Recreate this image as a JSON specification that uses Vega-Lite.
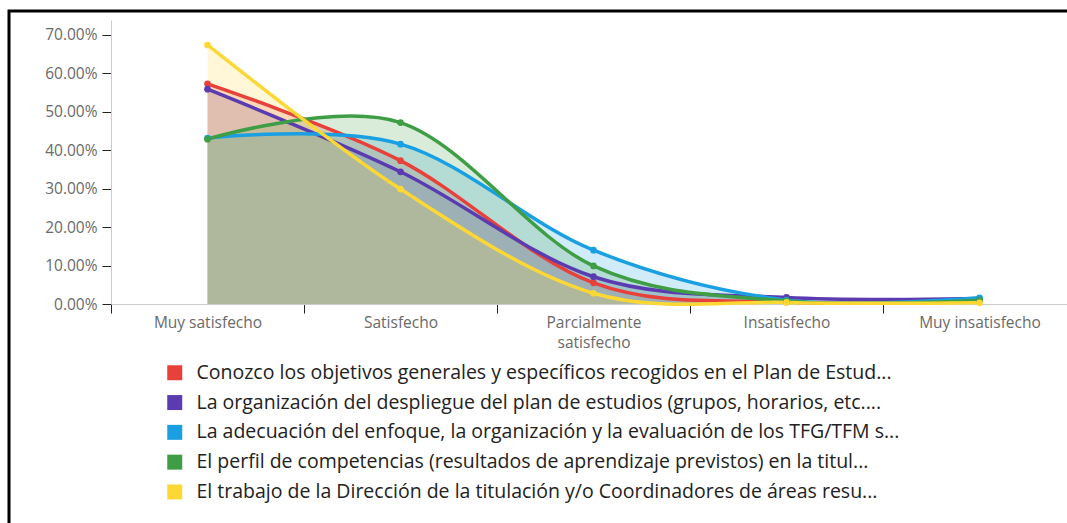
{
  "$schema": "https://vega.github.io/schema/vega-lite/v6.json",
  "autosize": "none",
  "padding": {"left": 9, "top": 11, "right": 0, "bottom": 0},
  "width": 1080,
  "height": 540,
  "config": {
    "font": "Open Sans",
    "view": {"stroke": "#000000", "strokeWidth": 3}
  },
  "data": {
    "values": [
      {"cat": "Muy satisfecho", "serie": "Conozco los objetivos generales y específicos recogidos en el Plan de Estud...", "value": 0.573},
      {"cat": "Satisfecho", "serie": "Conozco los objetivos generales y específicos recogidos en el Plan de Estud...", "value": 0.373},
      {"cat": "Parcialmente satisfecho", "serie": "Conozco los objetivos generales y específicos recogidos en el Plan de Estud...", "value": 0.055},
      {"cat": "Insatisfecho", "serie": "Conozco los objetivos generales y específicos recogidos en el Plan de Estud...", "value": 0.005},
      {"cat": "Muy insatisfecho", "serie": "Conozco los objetivos generales y específicos recogidos en el Plan de Estud...", "value": 0.01},
      {"cat": "Muy satisfecho", "serie": "La organización del despliegue del plan de estudios (grupos, horarios, etc....", "value": 0.559},
      {"cat": "Satisfecho", "serie": "La organización del despliegue del plan de estudios (grupos, horarios, etc....", "value": 0.344},
      {"cat": "Parcialmente satisfecho", "serie": "La organización del despliegue del plan de estudios (grupos, horarios, etc....", "value": 0.071},
      {"cat": "Insatisfecho", "serie": "La organización del despliegue del plan de estudios (grupos, horarios, etc....", "value": 0.017},
      {"cat": "Muy insatisfecho", "serie": "La organización del despliegue del plan de estudios (grupos, horarios, etc....", "value": 0.014},
      {"cat": "Muy satisfecho", "serie": "La adecuación del enfoque, la organización y la evaluación de los TFG/TFM s...", "value": 0.432},
      {"cat": "Satisfecho", "serie": "La adecuación del enfoque, la organización y la evaluación de los TFG/TFM s...", "value": 0.416},
      {"cat": "Parcialmente satisfecho", "serie": "La adecuación del enfoque, la organización y la evaluación de los TFG/TFM s...", "value": 0.14},
      {"cat": "Insatisfecho", "serie": "La adecuación del enfoque, la organización y la evaluación de los TFG/TFM s...", "value": 0.01},
      {"cat": "Muy insatisfecho", "serie": "La adecuación del enfoque, la organización y la evaluación de los TFG/TFM s...", "value": 0.016},
      {"cat": "Muy satisfecho", "serie": "El perfil de competencias (resultados de aprendizaje previstos) en la titul...", "value": 0.429},
      {"cat": "Satisfecho", "serie": "El perfil de competencias (resultados de aprendizaje previstos) en la titul...", "value": 0.472},
      {"cat": "Parcialmente satisfecho", "serie": "El perfil de competencias (resultados de aprendizaje previstos) en la titul...", "value": 0.099},
      {"cat": "Insatisfecho", "serie": "El perfil de competencias (resultados de aprendizaje previstos) en la titul...", "value": 0.008},
      {"cat": "Muy insatisfecho", "serie": "El perfil de competencias (resultados de aprendizaje previstos) en la titul...", "value": 0.01},
      {"cat": "Muy satisfecho", "serie": "El trabajo de la Dirección de la titulación y/o Coordinadores de áreas resu...", "value": 0.674},
      {"cat": "Satisfecho", "serie": "El trabajo de la Dirección de la titulación y/o Coordinadores de áreas resu...", "value": 0.299},
      {"cat": "Parcialmente satisfecho", "serie": "El trabajo de la Dirección de la titulación y/o Coordinadores de áreas resu...", "value": 0.028},
      {"cat": "Insatisfecho", "serie": "El trabajo de la Dirección de la titulación y/o Coordinadores de áreas resu...", "value": 0.004},
      {"cat": "Muy insatisfecho", "serie": "El trabajo de la Dirección de la titulación y/o Coordinadores de áreas resu...", "value": 0.003}
    ]
  },
  "encoding": {
    "x": {
      "field": "cat",
      "type": "nominal",
      "sort": ["Muy satisfecho", "Satisfecho", "Parcialmente satisfecho", "Insatisfecho", "Muy insatisfecho"],
      "scale": {"type": "band", "range": [102, 1067], "paddingInner": 0, "paddingOuter": 0},
      "axis": {
        "title": null,
        "offset": -247,
        "labelAngle": 0,
        "tickBand": "extent",
        "domainColor": "#cccccc",
        "tickColor": "#222222",
        "tickSize": 9,
        "labelColor": "#6a6a6a",
        "labelFontSize": 15.5,
        "labelPadding": 2,
        "labelLineHeight": 20,
        "labelLimit": 300,
        "labelExpr": "datum.label == 'Parcialmente satisfecho' ? ['Parcialmente', 'satisfecho'] : datum.label"
      }
    },
    "y": {
      "field": "value",
      "type": "quantitative",
      "stack": null,
      "scale": {"domain": [0, 0.739], "range": [293, 9], "nice": false, "zero": true},
      "axis": {
        "title": null,
        "offset": -102,
        "grid": false,
        "values": [0, 0.1, 0.2, 0.3, 0.4, 0.5, 0.6, 0.7],
        "format": ".2%",
        "domainColor": "#cccccc",
        "tickColor": "#222222",
        "tickSize": 9,
        "labelColor": "#6a6a6a",
        "labelFontSize": 15.5,
        "labelPadding": 5
      }
    },
    "color": {
      "field": "serie",
      "type": "nominal",
      "sort": null,
      "scale": {
        "domain": [
          "Conozco los objetivos generales y específicos recogidos en el Plan de Estud...",
          "La organización del despliegue del plan de estudios (grupos, horarios, etc....",
          "La adecuación del enfoque, la organización y la evaluación de los TFG/TFM s...",
          "El perfil de competencias (resultados de aprendizaje previstos) en la titul...",
          "El trabajo de la Dirección de la titulación y/o Coordinadores de áreas resu..."
        ],
        "range": ["#e8403a", "#5b3cb0", "#1aa0e2", "#3f9e45", "#fdd835"]
      },
      "legend": {
        "title": null,
        "orient": "none",
        "legendX": 156,
        "legendY": 352,
        "direction": "vertical",
        "symbolType": "square",
        "symbolSize": 225,
        "symbolStrokeWidth": 0,
        "symbolOpacity": 1,
        "labelFontSize": 19.5,
        "labelColor": "#222222",
        "labelLimit": 1000,
        "labelOffset": 12,
        "rowPadding": 8.8,
        "encode": {
          "symbols": {"update": {"fill": {"scale": "color", "field": "value"}, "opacity": {"value": 1}, "strokeWidth": {"value": 0}}}
        }
      }
    }
  },
  "layer": [
    {"mark": {"type": "area", "interpolate": "cardinal", "fillOpacity": 0.2}},
    {"mark": {"type": "line", "interpolate": "cardinal", "strokeWidth": 3.5}},
    {"mark": {"type": "point", "filled": true, "size": 45, "opacity": 1}}
  ]
}
